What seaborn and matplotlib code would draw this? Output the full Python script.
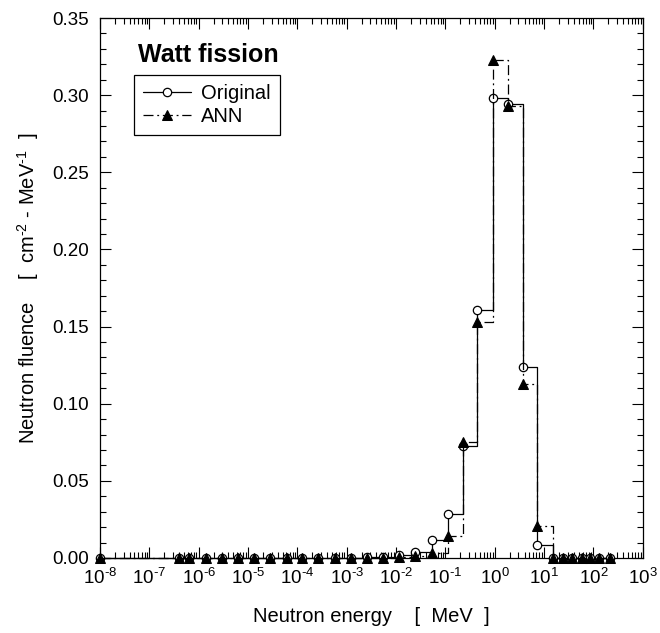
import numpy as np
import pandas as pd
import matplotlib
matplotlib.use('Agg')
import matplotlib.pyplot as plt
import matplotlib.ticker as mticker
import seaborn as sns

# energy groups (MeV)
energy = [1.0e-8, 3.9e-7, 6.3e-7, 1.38e-6, 3.0e-6, 6.3e-6, 1.32e-5, 2.78e-5,
          6.05e-5, 1.26e-4, 2.65e-4, 5.78e-4, 1.22e-3, 2.53e-3, 5.33e-3,
          1.16e-2, 2.41e-2, 5.25e-2, 0.111, 0.222, 0.44, 0.90, 1.87, 3.66,
          7.24, 15.3, 24.4, 37.1, 57.5, 84.5, 130.5, 215.0]

original = [0.0, 0.0, 0.0, 0.0, 0.0, 0.0, 0.0, 0.0,
            0.0, 0.0, 0.0, 0.0, 0.0, 0.0005, 0.0008,
            0.002, 0.004, 0.0117, 0.0283, 0.0726, 0.161, 0.298, 0.294, 0.124,
            0.0084, 0.0, 0.0, 0.0, 0.0, 0.0, 0.0, 0.0]

ann = [0.0, 0.0, 0.0, 0.0, 0.0, 0.0, 0.0, 0.0,
       0.0, 0.0, 0.0, 0.0, 0.0, 0.0, 0.0,
       0.0005, 0.001, 0.003, 0.0143, 0.0754, 0.153, 0.323, 0.293, 0.113,
       0.0207, 0.0, 0.0, 0.0, 0.0, 0.0, 0.0, 0.0]

df = pd.DataFrame({'Energy': energy, 'Original': original, 'ANN': ann})

sns.set_style('ticks')
plt.rcParams['font.family'] = ['Liberation Sans', 'DejaVu Sans']
plt.rcParams['mathtext.fontset'] = 'custom'
plt.rcParams['mathtext.rm'] = 'Liberation Sans'
plt.rcParams['mathtext.it'] = 'Liberation Sans'
plt.rcParams['mathtext.default'] = 'regular'
plt.rcParams['axes.unicode_minus'] = False
plt.rcParams['text.color'] = 'black'
plt.rcParams['axes.labelcolor'] = 'black'


def decade_label(val, pos):
    n = int(round(np.log10(val)))
    if n < 0:
        return r'$10^{\text{-}%d}$' % (-n)
    return r'$10^{%d}$' % n


fig = plt.figure(figsize=(6.6, 6.33), dpi=100)
ax = fig.add_axes([0.1515, 0.1185, 0.8225, 0.853])

sns.lineplot(data=df, x='Energy', y='Original', ax=ax, estimator=None,
             drawstyle='steps-post', color='black', linewidth=0.9,
             marker='o', markersize=6, markerfacecolor='white',
             markeredgecolor='black', markeredgewidth=0.9, label='Original',
             clip_on=False, zorder=3)
sns.lineplot(data=df, x='Energy', y='ANN', ax=ax, estimator=None,
             drawstyle='steps-post', color='black', linewidth=0.9,
             dashes=False, marker='^', markersize=7,
             markerfacecolor='black', markeredgecolor='black', label='ANN',
             clip_on=False, zorder=4)
ax.lines[1].set_linestyle((0, (8, 3, 1.5, 3)))

ax.set_xscale('log')
ax.set_xlim(1e-8, 1e3)
ax.set_ylim(0, 0.35)
ax.xaxis.set_major_locator(mticker.LogLocator(base=10, numticks=20))
ax.xaxis.set_minor_locator(mticker.LogLocator(base=10, subs=np.arange(2, 10), numticks=20))
ax.xaxis.set_major_formatter(mticker.FuncFormatter(decade_label))
ax.xaxis.set_minor_formatter(mticker.NullFormatter())
ax.yaxis.set_major_locator(mticker.MultipleLocator(0.05))
ax.yaxis.set_minor_locator(mticker.MultipleLocator(0.01))
ax.yaxis.set_major_formatter(mticker.FormatStrFormatter('%.2f'))

ax.tick_params(which='both', direction='in', top=True, right=True,
               color='black', width=0.8, labelsize=13.5, labelcolor='black')
ax.tick_params(which='major', length=8)
ax.tick_params(which='minor', length=4.5)
ax.tick_params(axis='y', which='major', pad=8)
ax.tick_params(axis='x', which='major', pad=7)
for s in ax.spines.values():
    s.set_color('black')
    s.set_linewidth(0.9)

ax.set_xlabel('Neutron energy    [  MeV  ]', fontsize=14.5, labelpad=14)
ax.set_ylabel(r'Neutron fluence    [  cm$^{\text{-}2}$ - MeV$^{\text{-}1}$  ]',
              fontsize=14.5, labelpad=8)

ax.text(0.07, 0.918, 'Watt fission', transform=ax.transAxes, fontsize=18,
        fontweight='bold', ha='left', va='baseline', color='black')

leg = ax.legend(loc='upper left', bbox_to_anchor=(0.0626, 0.894), fontsize=14.5,
                frameon=True, fancybox=False, edgecolor='black', framealpha=1,
                handlelength=2.4, borderpad=0.45, labelspacing=0.2,
                handletextpad=0.5, borderaxespad=0)
leg.get_frame().set_linewidth(0.9)

fig.savefig('out.png', dpi=100)
